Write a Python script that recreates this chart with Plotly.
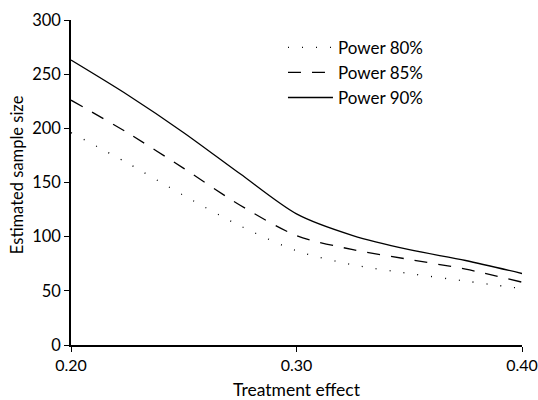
import plotly.graph_objects as go

effect = [0.20, 0.225, 0.25, 0.275, 0.30, 0.325, 0.35, 0.375, 0.40]
power80 = [196, 168, 138, 110, 87, 74, 66, 59, 52]
power85 = [226, 196, 163, 129, 101, 88, 79, 70, 58]
power90 = [263, 231, 196, 158, 121, 101, 88, 78, 66]

names = ["Power 80%", "Power 85%", "Power 90%"]
dashes = ["1px,13px", "13px,11px", "solid"]

fig = go.Figure()
for name, vals, dash in zip(names, [power80, power85, power90], dashes):
    fig.add_trace(go.Scatter(
        x=effect, y=vals, name=name, mode="lines",
        line=dict(color="black", width=1.3, dash=dash, shape="spline", smoothing=0.8),
    ))

fig.update_layout(
    width=538, height=400,
    margin=dict(l=71, r=16, t=20, b=55),
    paper_bgcolor="white", plot_bgcolor="white",
    font=dict(family="Lato", size=16, color="black"),
    showlegend=True,
    legend=dict(x=0.47, y=0.97, xanchor="left", yanchor="top",
                bgcolor="rgba(0,0,0,0)", font=dict(size=17),
                tracegroupgap=0, itemwidth=45),
    annotations=[dict(text="Estimated sample size", textangle=-90,
                      xref="paper", yref="paper", x=-0.118, y=0.525,
                      xanchor="center", yanchor="middle", showarrow=False,
                      font=dict(size=16.5))],
)
fig.update_xaxes(
    range=[0.2, 0.4], tickvals=[0.2, 0.3, 0.4], ticktext=["0.20", "0.30", "0.40"],
    showline=True, linecolor="black", linewidth=1.5, ticks="outside", ticklen=5,
    tickwidth=1.3, tickcolor="black", showgrid=False, zeroline=False,
    automargin=False, tickfont=dict(size=16),
    title=dict(text="Treatment effect", standoff=14, font=dict(size=17.5)),
)
fig.update_yaxes(
    range=[0, 300], tickvals=[0, 50, 100, 150, 200, 250, 300],
    showline=True, linecolor="black", linewidth=1.5, ticks="outside", ticklen=5,
    tickwidth=1.3, tickcolor="black", showgrid=False, zeroline=False,
    automargin=False, tickfont=dict(size=16.5),
)
fig.write_html("out.html", config={"displayModeBar": False},
               post_script="document.body.style.margin='0';document.body.style.overflow='hidden';")
